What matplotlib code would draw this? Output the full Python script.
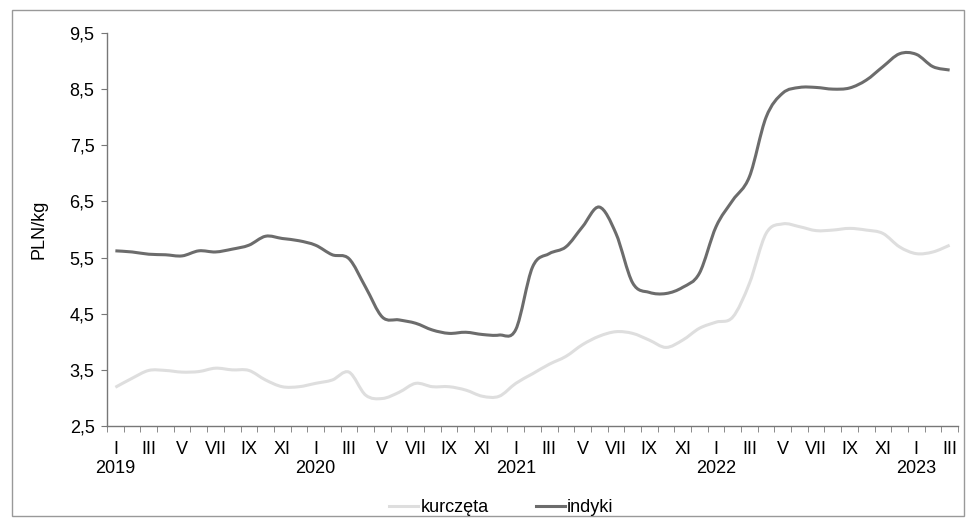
import matplotlib.pyplot as plt
from matplotlib.patches import Rectangle, PathPatch
from matplotlib.path import Path
from matplotlib.lines import Line2D

plt.rcParams['font.family'] = ['Liberation Sans', 'DejaVu Sans']

months = ['I', 'II', 'III', 'IV', 'V', 'VI', 'VII', 'VIII', 'IX', 'X', 'XI', 'XII']
years = ['2019', '2020', '2021', '2022', '2023']

# monthly prices, I 2019 - III 2023
kurczeta = [3.19, 3.35, 3.49, 3.49, 3.46, 3.47, 3.53, 3.50, 3.49, 3.32, 3.20, 3.20,
            3.26, 3.32, 3.46, 3.05, 2.99, 3.10, 3.26, 3.20, 3.20, 3.14, 3.03, 3.03,
            3.26, 3.43, 3.60, 3.74, 3.95, 4.10, 4.18, 4.15, 4.03, 3.90, 4.03, 4.24,
            4.35, 4.44, 5.04, 5.93, 6.10, 6.05, 5.98, 5.99, 6.02, 5.99, 5.93, 5.69,
            5.57, 5.60, 5.72]
indyki = [5.62, 5.60, 5.56, 5.55, 5.53, 5.62, 5.60, 5.65, 5.72, 5.88, 5.84, 5.80,
          5.72, 5.55, 5.48, 4.97, 4.44, 4.39, 4.33, 4.21, 4.15, 4.17, 4.13, 4.12,
          4.22, 5.33, 5.57, 5.69, 6.05, 6.40, 5.93, 5.05, 4.88, 4.86, 4.97, 5.22,
          6.05, 6.52, 6.94, 8.00, 8.43, 8.53, 8.53, 8.50, 8.52, 8.66, 8.90, 9.13,
          9.12, 8.90, 8.84]

n = len(indyki)
x = list(range(n))


def smooth_path(xs, ys, t=1 / 6):
    # bezier curve through the points, like a "smoothed line" in a spreadsheet
    verts = [(xs[0], ys[0])]
    codes = [Path.MOVETO]
    for i in range(len(xs) - 1):
        x0, y0 = xs[max(i - 1, 0)], ys[max(i - 1, 0)]
        x1, y1 = xs[i], ys[i]
        x2, y2 = xs[i + 1], ys[i + 1]
        x3, y3 = xs[min(i + 2, len(xs) - 1)], ys[min(i + 2, len(xs) - 1)]
        verts += [(x1 + (x2 - x0) * t, y1 + (y2 - y0) * t),
                  (x2 - (x3 - x1) * t, y2 - (y3 - y1) * t),
                  (x2, y2)]
        codes += [Path.CURVE4] * 3
    return Path(verts, codes)


labels = []
for i in range(n):
    if i % 2 == 0:
        lab = months[i % 12]
        if i % 12 == 0:
            lab += '\n' + years[i // 12]
        labels.append(lab)

fig = plt.figure(figsize=(9.66, 5.21), dpi=100)
ax = fig.add_axes([0.1108, 0.1823, 0.8809, 0.7544])

col_k = '#dedede'
col_i = '#6c6c6c'
ax.add_patch(PathPatch(smooth_path(x, kurczeta), fill=False, edgecolor=col_k, lw=2.2))
ax.add_patch(PathPatch(smooth_path(x, indyki), fill=False, edgecolor=col_i, lw=2.2))

ax.set_xlim(-0.5, n - 0.5)
ax.set_ylim(2.5, 9.5)
yt = [2.5, 3.5, 4.5, 5.5, 6.5, 7.5, 8.5, 9.5]
ax.set_yticks(yt)
ax.set_yticklabels([('%.1f' % v).replace('.', ',') for v in yt], fontsize=13)
ax.set_xticks(x[::2])
ax.set_xticklabels(labels, fontsize=13, linespacing=1.15)
ax.set_xticks([i - 0.5 for i in range(n + 1)], minor=True)
ax.tick_params(axis='x', which='major', length=0, pad=11)
ax.tick_params(axis='x', which='minor', length=4, color='#777777')
ax.tick_params(axis='y', length=4, color='#777777', pad=5)
ax.set_ylabel('PLN/kg', fontsize=13, labelpad=16)

for s in ['top', 'right']:
    ax.spines[s].set_visible(False)
for s in ['left', 'bottom']:
    ax.spines[s].set_color('#777777')
    ax.spines[s].set_linewidth(1.0)

handles = [Line2D([], [], color=col_k, lw=2.2), Line2D([], [], color=col_i, lw=2.2)]
fig.legend(handles, ['kurczęta', 'indyki'], loc='center', bbox_to_anchor=(0.519, 0.025),
           ncol=2, frameon=False, fontsize=13, handlelength=1.6, handletextpad=0.15,
           columnspacing=2.6)

fig.patches.append(Rectangle((12 / 966, 5 / 521), 952 / 966, 506 / 521,
                             transform=fig.transFigure, fill=False,
                             edgecolor='#999999', lw=1.0))

fig.savefig('out.png', dpi=100)
